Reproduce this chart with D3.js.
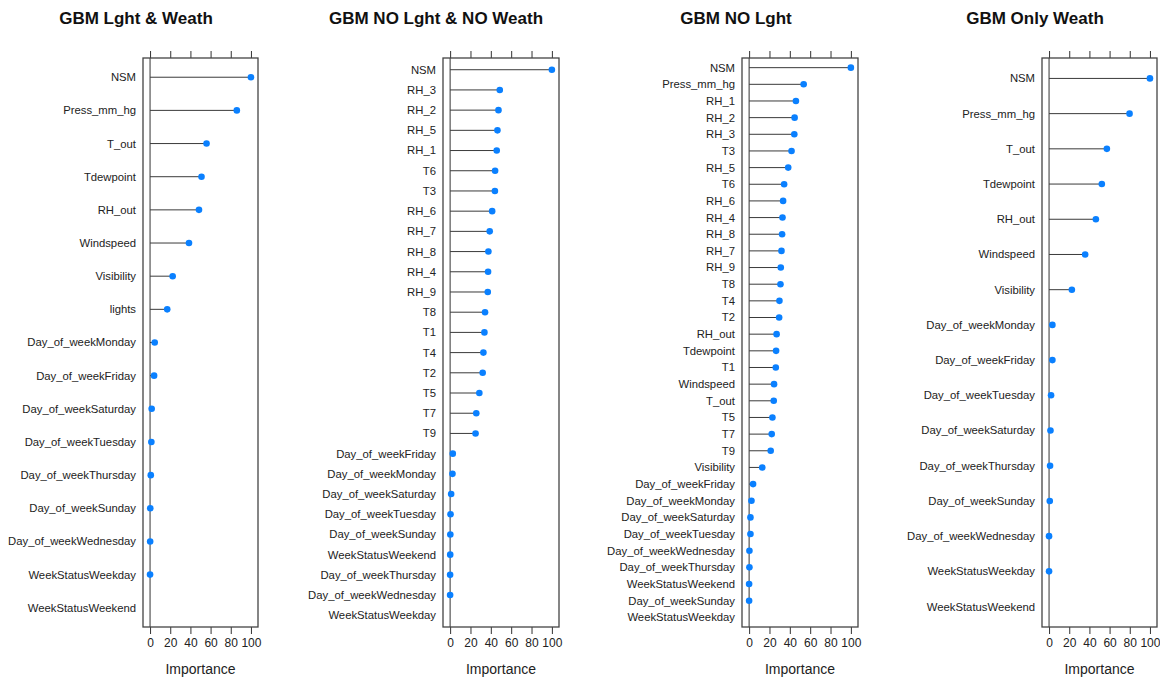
<!DOCTYPE html>
<html>
<head>
<meta charset="utf-8">
<script src="https://cdn.jsdelivr.net/npm/d3@7"></script>
<style>
  html, body { margin: 0; padding: 0; background: #fff; }
  svg { display: block; font-family: "Liberation Sans", Arial, sans-serif; }
</style>
</head>
<body>
<div id="chart"></div>
<script>
// ---- data (variable importance, scaled 0-100) ----
const titles = ['GBM Lght & Weath', 'GBM NO Lght & NO Weath', 'GBM NO Lght', 'GBM Only Weath'];

const featsLW = ['NSM', 'Press_mm_hg', 'T_out', 'Tdewpoint', 'RH_out', 'Windspeed', 'Visibility', 'lights',
  'Day_of_weekMonday', 'Day_of_weekFriday', 'Day_of_weekSaturday', 'Day_of_weekTuesday', 'Day_of_weekThursday',
  'Day_of_weekSunday', 'Day_of_weekWednesday', 'WeekStatusWeekday', 'WeekStatusWeekend'];
const valsLW = [100, 86, 56, 51, 48.5, 38.6, 22.4, 17, 4.6, 4, 1.6, 1.3, 0.7, 0.2, 0.1, 0, null];

const featsNone = ['NSM', 'RH_3', 'RH_2', 'RH_5', 'RH_1', 'T6', 'T3', 'RH_6', 'RH_7', 'RH_8', 'RH_4', 'RH_9',
  'T8', 'T1', 'T4', 'T2', 'T5', 'T7', 'T9', 'Day_of_weekFriday', 'Day_of_weekMonday', 'Day_of_weekSaturday',
  'Day_of_weekTuesday', 'Day_of_weekSunday', 'WeekStatusWeekend', 'Day_of_weekThursday', 'Day_of_weekWednesday',
  'WeekStatusWeekday'];
const valsNone = [100, 48.8, 47.5, 46.5, 45.8, 44.2, 44, 41.3, 38.9, 37.6, 37.3, 37, 34.3, 33.7, 32.7, 32,
  28.7, 25.7, 25, 2.6, 2.3, 1, 0.4, 0.2, 0.1, 0, 0, null];

const featsNoL = ['NSM', 'Press_mm_hg', 'RH_1', 'RH_2', 'RH_3', 'T3', 'RH_5', 'T6', 'RH_6', 'RH_4', 'RH_8',
  'RH_7', 'RH_9', 'T8', 'T4', 'T2', 'RH_out', 'Tdewpoint', 'T1', 'Windspeed', 'T_out', 'T5', 'T7', 'T9',
  'Visibility', 'Day_of_weekFriday', 'Day_of_weekMonday', 'Day_of_weekSaturday', 'Day_of_weekTuesday',
  'Day_of_weekWednesday', 'Day_of_weekThursday', 'WeekStatusWeekend', 'Day_of_weekSunday', 'WeekStatusWeekday'];
const valsNoL = [100, 53.6, 46, 44.7, 44.4, 41.7, 38.4, 34.4, 33.4, 32.8, 32.4, 31.8, 31.1, 30.8, 29.8, 29.5,
  27, 26.5, 26.2, 24.5, 24.2, 22.9, 22.2, 21.2, 12.9, 3.9, 2.3, 1.3, 1.3, 0.3, 0.3, 0, 0, null];

const featsW = ['NSM', 'Press_mm_hg', 'T_out', 'Tdewpoint', 'RH_out', 'Windspeed', 'Visibility',
  'Day_of_weekMonday', 'Day_of_weekFriday', 'Day_of_weekTuesday', 'Day_of_weekSaturday', 'Day_of_weekThursday',
  'Day_of_weekSunday', 'Day_of_weekWednesday', 'WeekStatusWeekday', 'WeekStatusWeekend'];
const valsW = [100, 79.8, 57.3, 52.3, 46.4, 35.8, 22.6, 3.3, 3.3, 2, 1.4, 1, 0.7, 0, 0, null];

const xTicks = [0, 20, 40, 60, 80, 100];

// ---- layout ----
const W = 1160, H = 678;
const boxTop = 58, boxBottom = 627;
const panels = [
  { feats: featsLW, vals: valsLW, x0: 143, x1: 258, titleX: 136 },
  { feats: featsNone, vals: valsNone, x0: 443, x1: 559, titleX: 436 },
  { feats: featsNoL, vals: valsNoL, x0: 742, x1: 858, titleX: 736 },
  { feats: featsW, vals: valsW, x0: 1042, x1: 1157, titleX: 1035 }
];

const svg = d3.select('#chart').append('svg')
  .attr('width', W).attr('height', H).attr('viewBox', `0 0 ${W} ${H}`);

panels.forEach((p, i) => {
  const g = svg.append('g');
  const x = d3.scaleLinear().domain([-7, 107]).range([p.x0, p.x1]);
  const y = d3.scalePoint().domain(p.feats).range([boxTop, boxBottom]).padding(0.58);

  g.append('text')
    .attr('x', p.titleX).attr('y', 24)
    .attr('text-anchor', 'middle')
    .attr('font-size', 17).attr('font-weight', 'bold').attr('fill', '#111')
    .text(titles[i]);

  // top ticks, no labels
  const topAxis = g.append('g').attr('transform', `translate(0,${boxTop})`)
    .call(d3.axisTop(x).tickValues(xTicks).tickSize(7).tickFormat(''));
  topAxis.select('.domain').remove();
  topAxis.selectAll('.tick line').attr('stroke', '#333');

  const botAxis = g.append('g').attr('transform', `translate(0,${boxBottom})`)
    .call(d3.axisBottom(x).tickValues(xTicks).tickSize(7).tickPadding(4));
  botAxis.select('.domain').remove();
  botAxis.selectAll('.tick line').attr('stroke', '#333');
  botAxis.selectAll('.tick text').attr('font-size', 12).attr('fill', '#222')
    .attr('font-family', '"Liberation Sans", Arial, sans-serif');

  g.append('text')
    .attr('x', (p.x0 + p.x1) / 2).attr('y', 674)
    .attr('text-anchor', 'middle').attr('font-size', 14).attr('fill', '#222')
    .text('Importance');

  // zero reference line
  g.append('line')
    .attr('x1', x(0)).attr('x2', x(0)).attr('y1', boxTop).attr('y2', boxBottom)
    .attr('stroke', '#333').attr('stroke-width', 1);

  g.selectAll('text.lab').data(p.feats).join('text')
    .attr('class', 'lab')
    .attr('x', p.x0 - 7).attr('y', d => y(d)).attr('dy', '0.35em')
    .attr('text-anchor', 'end').attr('font-size', 11.3).attr('fill', '#222')
    .text(d => d);

  const rows = p.feats.map((f, k) => ({ f, v: p.vals[k] })).filter(d => d.v != null);

  g.selectAll('line.stem').data(rows).join('line')
    .attr('class', 'stem')
    .attr('x1', x(0)).attr('x2', d => x(d.v))
    .attr('y1', d => y(d.f)).attr('y2', d => y(d.f))
    .attr('stroke', '#3a3a3a').attr('stroke-width', 1);

  g.selectAll('circle.pt').data(rows).join('circle')
    .attr('class', 'pt')
    .attr('cx', d => x(d.v)).attr('cy', d => y(d.f)).attr('r', 3.3)
    .attr('fill', '#0a80ff');

  g.append('rect')
    .attr('x', p.x0).attr('y', boxTop)
    .attr('width', p.x1 - p.x0).attr('height', boxBottom - boxTop)
    .attr('fill', 'none').attr('stroke', '#444').attr('stroke-width', 1.3);
});
</script>
</body>
</html>
